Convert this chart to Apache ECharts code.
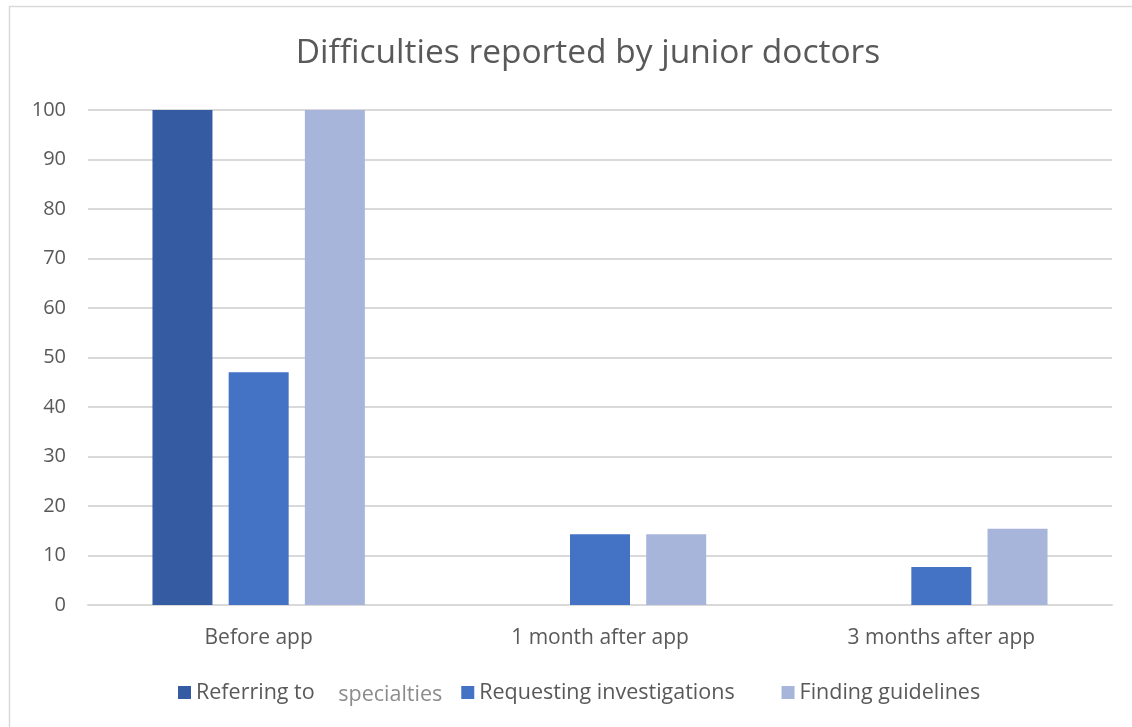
<!DOCTYPE html>
<html>
<head>
<meta charset="utf-8">
<script src="https://cdn.jsdelivr.net/npm/echarts@6/dist/echarts.min.js"></script>
<style>
  html, body { margin: 0; padding: 0; background: #fff; }
  #chart { width: 1132px; height: 727px; }
</style>
</head>
<body>
<div id="chart"></div>
<script>
const categories = ["Before app", "1 month after app", "3 months after app"];
const referring = [100, 0, 0];
const requesting = [47, 14.3, 7.7];
const guidelines = [100, 14.3, 15.4];

const FONT = "Open Sans";
const TEXT = "#595959";

const chart = echarts.init(document.getElementById("chart"), null, { renderer: "canvas" });

chart.setOption({
  animation: false,
  backgroundColor: "#fff",
  graphic: [
    {
      type: "rect",
      shape: { x: 9.5, y: 6.5, width: 1140, height: 740 },
      style: { fill: "none", stroke: "#d9d9d9", lineWidth: 1.5 },
      silent: true
    }
  ],
  title: {
    text: "Difficulties reported by junior doctors",
    left: 583,
    textAlign: "center",
    top: 31,
    textStyle: { color: TEXT, fontFamily: FONT, fontWeight: "normal", fontSize: 33.5 }
  },
  legend: {
    bottom: 16,
    left: 173,
    itemWidth: 13,
    itemHeight: 13,
    itemGap: 19,
    icon: "rect",
    formatter: function (name) {
      if (name === "Referring to specialties") return "Referring to {s|specialties}";
      if (name === "Requesting investigations") return "Requesting investigations{p|\u00a0\u00a0\u00a0\u00a0\u00a0}";
      return name;
    },
    data: ["Referring to specialties", "Requesting investigations", "Finding guidelines"],
    textStyle: {
      color: TEXT, fontFamily: FONT, fontSize: 21.5,
      rich: {
        s: { color: "#8c8c8c", fontFamily: FONT, fontSize: 21.5, padding: [5, 0, 0, 18] },
        p: { fontFamily: FONT, fontSize: 21.5 }
      }
    }
  },
  grid: { left: 88, right: 20, top: 110, bottom: 122 },
  xAxis: {
    type: "category",
    data: categories,
    axisLine: { lineStyle: { color: "#d9d9d9", width: 2 } },
    axisTick: { show: false },
    axisLabel: { color: TEXT, fontFamily: FONT, fontSize: 21, margin: 23 }
  },
  yAxis: {
    type: "value",
    min: 0,
    max: 100,
    interval: 10,
    axisLine: { show: false },
    axisTick: { show: false },
    splitLine: { lineStyle: { color: "#d9d9d9", width: 2 } },
    axisLabel: { color: TEXT, fontFamily: FONT, fontSize: 20, margin: 22 }
  },
  series: [
    {
      name: "Referring to specialties",
      type: "bar",
      data: referring,
      barWidth: 60,
      barGap: "27%",
      barCategoryGap: "38%",
      itemStyle: { color: "#355ca2" }
    },
    {
      name: "Requesting investigations",
      type: "bar",
      data: requesting,
      barWidth: 60,
      itemStyle: { color: "#4472c4" }
    },
    {
      name: "Finding guidelines",
      type: "bar",
      data: guidelines,
      barWidth: 60,
      itemStyle: { color: "#a7b5da" }
    }
  ]
});
</script>
</body>
</html>
